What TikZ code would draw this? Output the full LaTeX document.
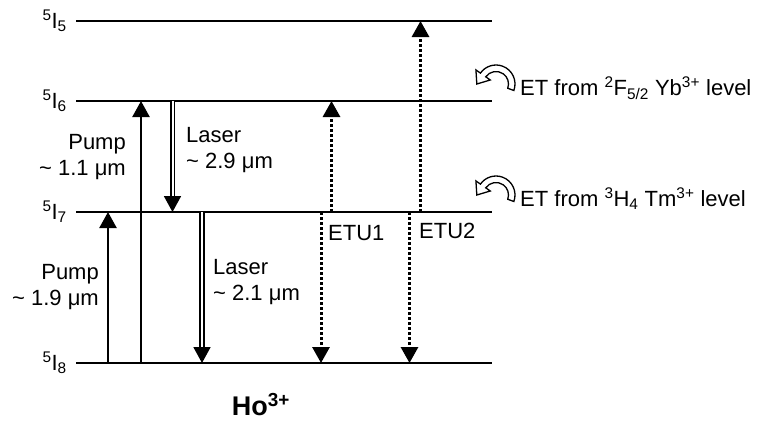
\documentclass[tikz,border=0pt]{standalone}
\usepackage{fontspec}
\setmainfont{Liberation Sans}
\usetikzlibrary{arrows.meta,positioning}

\begin{document}
\begin{tikzpicture}[x=1pt,y=-1pt,
 level/.style={line width=2.6pt},
 lbl/.style={font=\fontsize{22}{26}\selectfont,inner sep=0pt,align=left},
 pump/.style={line width=2.4pt,-{Triangle[width=17pt,length=16pt]}},
 laser/.style={double,double distance=2pt,line width=1.8pt,-{Triangle[width=17pt,length=16pt]}},
 etu/.style={line width=3pt,dash pattern=on 3pt off 2pt,-{Triangle[width=17pt,length=16pt]}},
 curl/.pic={\draw[line width=1.3pt,fill=white,line join=miter] (-20:19pt) arc[start angle=-20,end angle=145,radius=19pt]
   -- (145:24.5pt) -- (-19.2pt,0pt) -- (145:7pt) -- (145:12.5pt) arc[start angle=145,end angle=-20,radius=12.5pt] -- cycle;}]
 \useasboundingbox (0,0) rectangle (757,421);
 \foreach \n/\y in {5/21,6/101,7/212,8/363}{
  \coordinate (L\n a) at (76,\y); \coordinate (L\n b) at (492,\y);
  \draw[level] (L\n a) -- (L\n b);
  \node[lbl,anchor=base east] (t\n) at ([shift={(-9,7)}]L\n a) {\textsuperscript{5}I\textsubscript{\n}};}
 \foreach \c/\x in {p1/108,p2/141,s1/172.5,s2/202,u1/321,v1/331.5,u2/409.5,v2/420.5}
  \coordinate (\c) at (\x,0);
 \draw[pump] (L8a -| p1) -- (L7a -| p1); \draw[pump] (L8a -| p2) -- (L6a -| p2);
 \draw[laser] (L6a -| s1) -- (L7a -| s1); \draw[laser] (L7a -| s2) -- (L8a -| s2);
 \draw[etu] (L7a -| u1) -- (L8a -| u1); \draw[etu] (L7a -| v1) -- (L6a -| v1);
 \draw[etu] (L7a -| u2) -- (L8a -| u2); \draw[etu] (L7a -| v2) -- (L5a -| v2);
 \node[lbl,align=right,anchor=east] (pump11) at (126,157.5) {Pump\\\textasciitilde\ 1.1 μm};
 \node[lbl,anchor=west] (las29) at (186,150) {Laser\\\textasciitilde\ 2.9 μm};
 \node[lbl,align=right,anchor=east] (pump19) at (99,287.5) {Pump\\\textasciitilde\ 1.9 μm};
 \node[lbl,anchor=west] (las21) at (213,282.5) {Laser\\\textasciitilde\ 2.1 μm};
 \node[lbl,anchor=west] (etu1) at (328,233) {ETU1};
 \node[lbl,anchor=west] (etu2) at (419,230.5) {ETU2};
 \node[font=\bfseries\fontsize{27}{31}\selectfont,inner sep=0pt] (ion) at (261,405) {Ho\textsuperscript{3+}};
 \pic at (496,84) {curl}; \pic at (496,195) {curl};
 \node[lbl,anchor=base west] (etyb) at (520,95) {ET from \textsuperscript{2}F\textsubscript{5/2} Yb\textsuperscript{3+} level};
 \node[lbl,anchor=base west] (ettm) at (520,206) {ET from \textsuperscript{3}H\textsubscript{4} Tm\textsuperscript{3+} level};
\end{tikzpicture}
\end{document}
